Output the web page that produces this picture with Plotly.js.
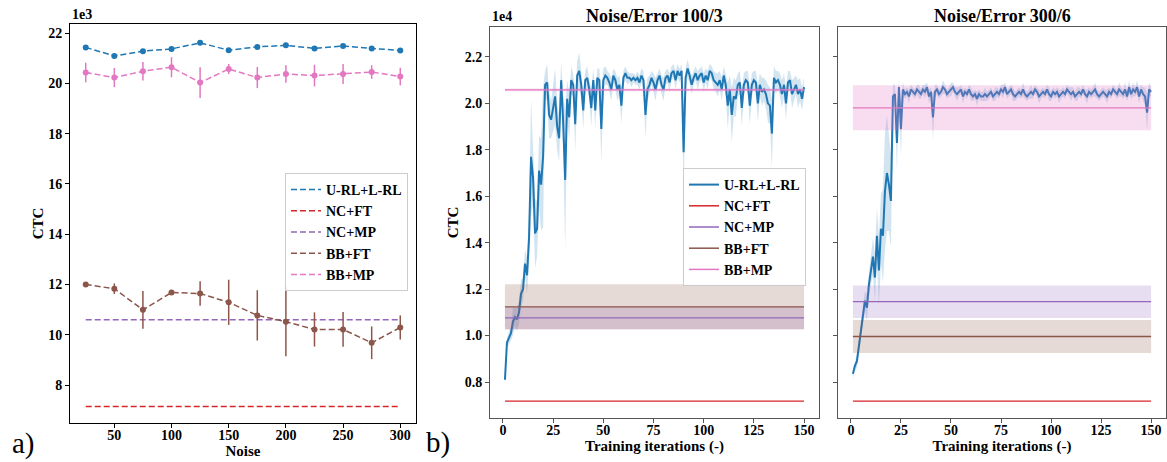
<!DOCTYPE html>
<html><head><meta charset="utf-8">
<script src="https://cdn.plot.ly/plotly-3.0.1.min.js"></script>
<style>html,body{margin:0;padding:0;background:#fff}#chart{width:1167px;height:462px}</style>
</head><body><div id="chart"></div>
<script>
// ---------- Panel a) : CTC (x1e3) vs noise ----------
const noise = [25,50,75,100,125,150,175,200,225,250,275,300];
const a_URL = [21.43,21.09,21.28,21.37,21.61,21.32,21.45,21.51,21.39,21.48,21.39,21.31];
const a_BBMP = [20.43,20.23,20.48,20.64,20.03,20.57,20.23,20.37,20.31,20.37,20.45,20.27];
const a_BBMP_err = [0.39,0.38,0.37,0.40,0.61,0.20,0.42,0.35,0.43,0.40,0.27,0.35];
const a_BBFT = [12.00,11.83,10.99,11.68,11.64,11.29,10.77,10.52,10.21,10.21,9.68,10.29];
const a_BBFT_err = [0.04,0.21,0.75,0.03,0.49,0.90,1.00,1.38,0.68,0.69,0.65,0.48];
const a_NCMP = [10.6,10.6,10.6,10.6,10.6,10.6,10.6,10.6,10.6,10.6,10.6,10.6];
const a_NCFT = [7.15,7.15,7.15,7.15,7.15,7.15,7.15,7.15,7.15,7.15,7.15,7.15];

// ---------- Panel b) : CTC (x1e4) vs training iterations ----------
const iters = Array.from({length:150},(_,i)=>i+1);
const b1_URL = [0.81,0.97,0.99,1.01,1.06,1.08,1.07,1.10,1.18,1.20,
 1.31,1.26,1.42,1.77,1.68,1.44,1.46,1.71,1.65,1.77,
 2.08,2.09,1.95,1.93,1.98,2.03,1.90,1.85,2.10,1.92,
 1.67,2.02,1.94,2.10,2.08,1.91,2.12,2.14,2.08,1.97,
 2.10,2.11,2.06,1.98,2.10,1.97,2.11,2.10,1.89,2.10,
 2.12,2.11,2.09,2.06,2.12,2.10,2.06,2.08,1.99,2.11,
 2.13,2.11,2.11,2.10,2.11,2.10,2.11,2.09,2.12,2.10,
 1.95,2.06,2.08,2.11,2.09,2.06,2.10,2.12,2.08,2.06,
 2.11,2.12,2.09,2.13,2.14,2.10,2.14,2.12,2.14,1.79,
 2.11,2.15,2.12,2.08,2.11,2.13,2.10,2.12,2.13,2.09,
 2.12,2.10,2.14,2.13,2.10,2.09,2.08,2.10,2.06,2.12,
 2.08,1.99,2.06,1.95,2.03,2.02,2.08,2.09,1.98,2.08,
 2.10,2.09,1.99,2.08,2.10,2.09,2.00,2.08,2.05,2.06,
 2.04,2.00,1.99,1.87,2.11,2.09,2.10,2.08,2.04,2.08,
 2.00,2.09,2.10,2.04,2.06,2.08,2.04,2.06,2.02,2.07];
const b1_URL_std = [0.01,0.02,0.03,0.03,0.06,0.04,0.05,0.05,0.06,0.05,
 0.06,0.08,0.10,0.25,0.12,0.15,0.12,0.15,0.20,0.30,
 0.06,0.08,0.10,0.08,0.10,0.12,0.10,0.10,0.08,0.12,
 0.30,0.08,0.10,0.06,0.05,0.12,0.06,0.08,0.06,0.08,
 0.04,0.05,0.04,0.08,0.05,0.08,0.04,0.05,0.15,0.05,
 0.04,0.03,0.04,0.05,0.03,0.04,0.05,0.04,0.08,0.03,
 0.03,0.03,0.02,0.03,0.02,0.02,0.03,0.03,0.03,0.04,
 0.10,0.05,0.04,0.03,0.04,0.05,0.03,0.03,0.04,0.05,
 0.03,0.03,0.04,0.03,0.03,0.04,0.03,0.03,0.03,0.20,
 0.04,0.04,0.03,0.04,0.03,0.03,0.04,0.03,0.03,0.04,
 0.03,0.04,0.03,0.03,0.04,0.04,0.05,0.04,0.05,0.04,
 0.05,0.10,0.06,0.12,0.08,0.08,0.05,0.05,0.08,0.05,
 0.04,0.05,0.08,0.05,0.04,0.05,0.08,0.05,0.06,0.05,
 0.06,0.08,0.08,0.15,0.05,0.05,0.04,0.05,0.06,0.05,
 0.07,0.05,0.04,0.06,0.05,0.04,0.06,0.05,0.05,0.04];
const b2_URL = [0.835,0.87,0.89,0.95,1.01,1.08,1.15,1.12,1.22,1.28,
 1.34,1.25,1.43,1.28,1.46,1.43,1.62,1.70,1.65,1.58,
 2.03,2.04,1.83,2.07,1.89,2.06,2.04,2.05,2.03,2.06,
 2.05,2.04,2.06,2.05,2.04,2.06,2.05,2.07,2.03,2.05,
 1.94,2.05,2.06,2.04,2.05,2.07,2.06,2.04,2.05,2.06,
 2.07,2.05,2.04,2.05,2.06,2.03,2.05,2.04,2.06,2.04,
 2.03,2.04,2.02,2.04,2.03,2.03,2.04,2.03,2.04,2.05,
 2.03,2.04,2.05,2.04,2.06,2.05,2.07,2.04,2.05,2.06,
 2.04,2.03,2.04,2.05,2.04,2.06,2.04,2.03,2.04,2.05,
 2.04,2.06,2.05,2.03,2.04,2.05,2.04,2.06,2.04,2.03,
 2.05,2.04,2.05,2.03,2.04,2.05,2.04,2.06,2.05,2.04,
 2.05,2.03,2.04,2.05,2.04,2.06,2.04,2.03,2.05,2.04,
 2.05,2.06,2.04,2.03,2.04,2.05,2.04,2.03,2.05,2.04,
 2.06,2.05,2.04,2.06,2.05,2.04,2.06,2.03,2.07,2.04,
 2.06,2.05,2.07,2.03,2.06,2.04,2.03,1.96,2.06,2.05];
const b2_URL_std = [0.02,0.02,0.03,0.03,0.03,0.04,0.04,0.06,0.05,0.06,
 0.08,0.10,0.12,0.15,0.15,0.20,0.25,0.25,0.20,0.20,
 0.05,0.04,0.12,0.03,0.12,0.03,0.02,0.02,0.03,0.02,
 0.02,0.02,0.02,0.03,0.02,0.02,0.03,0.02,0.03,0.02,
 0.10,0.03,0.02,0.02,0.02,0.03,0.02,0.02,0.02,0.03,
 0.02,0.02,0.03,0.02,0.02,0.03,0.02,0.02,0.02,0.03,
 0.02,0.02,0.03,0.02,0.02,0.02,0.03,0.02,0.02,0.02,
 0.02,0.03,0.02,0.02,0.02,0.03,0.02,0.02,0.02,0.02,
 0.03,0.02,0.02,0.02,0.02,0.03,0.02,0.02,0.02,0.03,
 0.02,0.02,0.02,0.03,0.02,0.02,0.02,0.02,0.03,0.02,
 0.02,0.02,0.02,0.03,0.02,0.02,0.02,0.02,0.02,0.03,
 0.02,0.02,0.03,0.02,0.02,0.02,0.02,0.03,0.02,0.02,
 0.02,0.03,0.02,0.02,0.02,0.02,0.02,0.03,0.02,0.02,
 0.02,0.02,0.02,0.03,0.02,0.02,0.03,0.02,0.03,0.02,
 0.03,0.02,0.03,0.03,0.02,0.03,0.04,0.08,0.03,0.02];
// baseline means / std (x1e4): [NC+FT, NC+MP, BB+FT, BB+MP]
const baseNames = ['NC+FT','NC+MP','BB+FT','BB+MP'];
const b1_base_mean = [0.718,1.076,1.124,2.058];
const b1_base_std  = [0.0,0.049,0.097,0.006];
const b2_base_mean = [0.718,1.146,0.996,1.981];
const b2_base_std  = [0.0,0.070,0.071,0.097];

const C = {blue:'#1f77b4', red:'#d62728', purple:'#9467bd', brown:'#8c564b', pink:'#e377c2'};
const baseColors = [C.red, C.purple, C.brown, C.pink];
const baseFill = ['rgba(214,39,40,0.2)','rgba(148,103,189,0.22)','rgba(140,86,75,0.22)','rgba(227,119,194,0.25)'];
const FONT = 'Liberation Serif, Times New Roman, serif';
const W = 1167, H = 462;
const px = v => v / W, py = v => 1 - v / H;
const DASH = '6px,3px';

const traces = [];
// ---- panel a traces
traces.push({x:noise, y:a_NCFT, mode:'lines', line:{color:C.red, dash:DASH, width:1.5}, showlegend:false, xaxis:'x', yaxis:'y'});
traces.push({x:noise, y:a_NCMP, mode:'lines', line:{color:C.purple, dash:DASH, width:1.5}, showlegend:false, xaxis:'x', yaxis:'y'});
traces.push({x:noise, y:a_BBFT, mode:'lines+markers', line:{color:C.brown, dash:DASH, width:1.5}, marker:{color:C.brown, size:6},
  error_y:{type:'data', array:a_BBFT_err, color:C.brown, thickness:1.5, width:0}, showlegend:false, xaxis:'x', yaxis:'y'});
traces.push({x:noise, y:a_BBMP, mode:'lines+markers', line:{color:C.pink, dash:DASH, width:1.5}, marker:{color:C.pink, size:6},
  error_y:{type:'data', array:a_BBMP_err, color:C.pink, thickness:1.5, width:0}, showlegend:false, xaxis:'x', yaxis:'y'});
traces.push({x:noise, y:a_URL, mode:'lines+markers', line:{color:C.blue, dash:DASH, width:1.5}, marker:{color:C.blue, size:6}, showlegend:false, xaxis:'x', yaxis:'y'});
// legend a
[['U-RL+L-RL',C.blue],['NC+FT',C.red],['NC+MP',C.purple],['BB+FT',C.brown],['BB+MP',C.pink]].forEach(([n,c])=>{
  traces.push({x:[null], y:[null], name:n, mode:'lines', line:{color:c, dash:DASH, width:1.5}, legend:'legend', xaxis:'x', yaxis:'y'});
});

// ---- panel b traces
function addPanel(xa, ya, mean, std, bm, bs) {
  const lo = mean.map((v,i)=>v-std[i]), hi = mean.map((v,i)=>v+std[i]);
  traces.push({x:iters, y:lo, mode:'lines', line:{width:0, color:'rgba(0,0,0,0)'}, showlegend:false, hoverinfo:'skip', xaxis:xa, yaxis:ya});
  traces.push({x:iters, y:hi, mode:'lines', line:{width:0, color:'rgba(0,0,0,0)'}, fill:'tonexty', fillcolor:'rgba(31,119,180,0.2)', showlegend:false, hoverinfo:'skip', xaxis:xa, yaxis:ya});
  traces.push({x:iters, y:mean, mode:'lines', line:{color:C.blue, width:2}, showlegend:false, xaxis:xa, yaxis:ya});
  const x0 = iters[0], x1 = iters[iters.length-1];
  bm.forEach((m,k)=>{
    if (bs[k] > 0) {
      traces.push({x:[x0,x1], y:[m-bs[k], m-bs[k]], mode:'lines', line:{width:0, color:'rgba(0,0,0,0)'}, showlegend:false, hoverinfo:'skip', xaxis:xa, yaxis:ya});
      traces.push({x:[x0,x1], y:[m+bs[k], m+bs[k]], mode:'lines', line:{width:0, color:'rgba(0,0,0,0)'}, fill:'tonexty', fillcolor:baseFill[k], showlegend:false, hoverinfo:'skip', xaxis:xa, yaxis:ya});
    }
  });
  bm.forEach((m,k)=>{
    traces.push({x:[x0,x1], y:[m,m], mode:'lines', line:{color:baseColors[k], width:1.3}, showlegend:false, xaxis:xa, yaxis:ya});
  });
}
addPanel('x2','y2', b1_URL, b1_URL_std, b1_base_mean, b1_base_std);
addPanel('x3','y3', b2_URL, b2_URL_std, b2_base_mean, b2_base_std);
traces.push({x:[null], y:[null], name:'U-RL+L-RL', mode:'lines', line:{color:C.blue, width:2}, legend:'legend2', xaxis:'x2', yaxis:'y2'});
baseNames.forEach((n,k)=>{
  traces.push({x:[null], y:[null], name:n, mode:'lines', line:{color:baseColors[k], width:1.5}, legend:'legend2', xaxis:'x2', yaxis:'y2'});
});

const tickF = {family:FONT, size:14, color:'#000', weight:'bold'};
const titleF = {family:FONT, size:15, color:'#000', weight:'bold'};
function ax(extra, lineColor) {
  return Object.assign({showline:true, mirror:true, linecolor:lineColor, linewidth:1, ticks:'outside', ticklen:4, tickwidth:1, tickcolor:lineColor,
    showgrid:false, zeroline:false, tickfont:tickF}, extra);
}
const layout = {
  width:W, height:H, margin:{l:0,r:0,t:0,b:0}, paper_bgcolor:'#fff', plot_bgcolor:'#fff', showlegend:true,
  font:{family:FONT, color:'#000'},
  xaxis: ax({domain:[px(70),px(416)], range:[11.25,313.75], tickvals:[50,100,150,200,250,300], anchor:'y', ticklabelstandoff:-5,
    title:{text:'Noise', font:titleF, standoff:0}}, '#000'),
  yaxis: ax({domain:[1-423/H, 1-24/H], range:[6.49,22.36], dtick:2, tick0:0, anchor:'x',
    title:{text:'CTC', font:titleF, standoff:0}}, '#000'),
  xaxis2: ax({domain:[px(490),px(819)], range:[-6.45,157.45], dtick:25, tick0:0, anchor:'y2', ticklabelstandoff:-5,
    title:{text:'Training iterations (-)', font:titleF, standoff:0}}, '#555'),
  yaxis2: ax({domain:[1-418/H, 1-27/H], range:[0.645,2.329], dtick:0.2, tick0:0, tickformat:'.1f', anchor:'x2',
    title:{text:'CTC', font:titleF, standoff:2}}, '#555'),
  xaxis3: ax({domain:[px(838),px(1166)], range:[-6.45,157.45], dtick:25, tick0:0, anchor:'y3', ticklabelstandoff:-5,
    title:{text:'Training iterations (-)', font:titleF, standoff:0}}, '#555'),
  yaxis3: ax({domain:[1-418/H, 1-27/H], range:[0.645,2.329], dtick:0.2, tick0:0, anchor:'x3', showticklabels:false}, '#555'),
  legend: {x:px(285), y:py(173), xanchor:'left', yanchor:'top', traceorder:'normal', bgcolor:'rgba(255,255,255,0.85)', bordercolor:'#ccc', borderwidth:1,
    font:{family:FONT, size:14, color:'#000', weight:'bold'}, tracegroupgap:0},
  legend2: {x:px(683), y:py(168), xanchor:'left', yanchor:'top', traceorder:'normal', bgcolor:'rgba(255,255,255,0.85)', bordercolor:'#ccc', borderwidth:1,
    font:{family:FONT, size:14, color:'#000', weight:'bold'}, tracegroupgap:0},
  annotations: [
    {text:'1e3', xref:'paper', yref:'paper', x:px(70), y:py(24), xanchor:'left', yanchor:'bottom', showarrow:false, font:{family:FONT, size:14, weight:'bold'}},
    {text:'1e4', xref:'paper', yref:'paper', x:px(490), y:py(26), xanchor:'left', yanchor:'bottom', showarrow:false, font:{family:FONT, size:14, weight:'bold'}},
    {text:'Noise/Error 100/3', xref:'paper', yref:'paper', x:px(654.5), y:py(16), xanchor:'center', yanchor:'middle', showarrow:false, font:{family:FONT, size:18, weight:'bold'}},
    {text:'Noise/Error 300/6', xref:'paper', yref:'paper', x:px(1002), y:py(16), xanchor:'center', yanchor:'middle', showarrow:false, font:{family:FONT, size:18, weight:'bold'}},
    {text:'a)', xref:'paper', yref:'paper', x:px(10), y:py(443), xanchor:'left', yanchor:'middle', showarrow:false, font:{family:FONT, size:29}},
    {text:'b)', xref:'paper', yref:'paper', x:px(424), y:py(442), xanchor:'left', yanchor:'middle', showarrow:false, font:{family:FONT, size:29}}
  ]
};
Plotly.newPlot('chart', traces, layout, {staticPlot:true, displayModeBar:false});
</script>
</body></html>
